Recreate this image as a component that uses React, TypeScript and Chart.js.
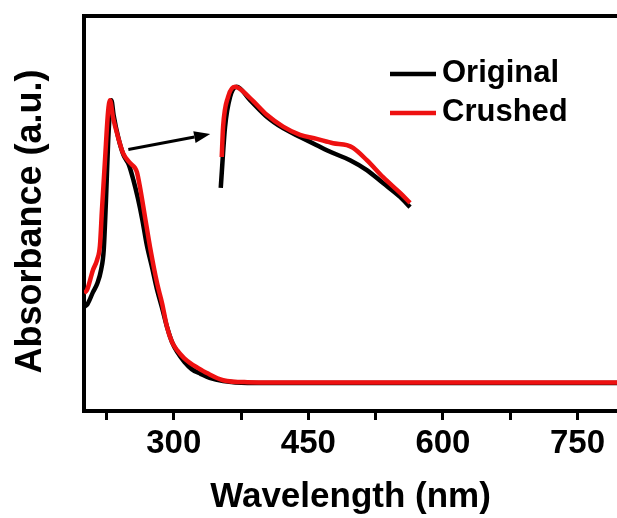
import React, { useEffect, useRef } from "react";
import { Chart, registerables } from "chart.js";

Chart.register(...registerables);

// ---- data ----
const xMin = 200;
const xMax = 794;
const labeledTicks = [300, 450, 600, 750];
const allTicks = [225, 300, 375, 450, 525, 600, 675, 750];

const originalWl = [200, 204, 210, 215, 219, 222, 224.5, 227, 229.5, 230.5, 233, 238, 244, 250, 255, 260, 265, 270, 276, 281, 287, 292.5, 298, 304, 312, 320, 330, 340, 355, 382, 450, 600, 794];
const originalAbs = [26.3, 27.1, 30.1, 32.4, 35.7, 40.8, 53.4, 68.6, 77.7, 78.7, 74.9, 69.4, 64.8, 62.3, 58.5, 53.9, 48.4, 42, 36.2, 31.1, 26.1, 21.3, 17.5, 14.9, 12.4, 10.6, 9.4, 8.4, 7.6, 7.1, 7.1, 7.1, 7.1];

const crushedWl = [200, 203.3, 210, 214.5, 217.8, 220, 223.4, 226.8, 229, 232.3, 237.9, 243.5, 251.3, 256.9, 259, 262.4, 268, 273.6, 281.4, 287, 292.5, 298, 303.7, 311.5, 318, 327, 337, 355, 382, 450, 600, 794];
const crushedAbs = [29.9, 30.6, 35.7, 38.2, 42, 50.9, 63.5, 75.7, 78.7, 74.4, 69.4, 65.3, 62.8, 61.5, 60.5, 56.7, 49.1, 41.5, 32.4, 27.3, 21.3, 17.5, 15.4, 13.4, 12.2, 10.9, 9.6, 7.8, 7.3, 7.2, 7.2, 7.2];

// inset (magnified peak) curves
const insetOriginalWl = [352.4, 357.2, 362.8, 370.2, 385.1, 403.7, 421.9, 440.8, 459.4, 477.6, 496.5, 515.2, 533.3, 552.3, 563.4];
const insetOriginalAbs = [56.5, 71.9, 79.5, 82.1, 78.7, 74.5, 71.6, 69.4, 67.3, 65.3, 63.5, 61, 57.7, 54.2, 51.6];
const insetCrushedWl = [353.5, 355.0, 360.5, 368.3, 385.1, 403.7, 421.9, 440.8, 459.4, 477.6, 492.9, 499.9, 515.2, 533.3, 552.3, 563.4];
const insetCrushedAbs = [64.3, 71.9, 79.5, 82.1, 79.2, 75, 72, 69.9, 68.9, 67.8, 67.3, 66.6, 63.5, 59.2, 55.2, 52.7];

const arrowFrom = [249.4, 66.2];
const arrowTo = [340.6, 70.1];

const seriesNames = ["Original", "Crushed"];
const seriesColors = ["#000000", "#ee1111"];
const yTitle = "Absorbance (a.u.)";
const xTitle = "Wavelength (nm)";

const FONT = "'Liberation Sans', Arial, sans-serif";

const toPoints = (xs: number[], ys: number[]) => xs.map((x, i) => ({ x, y: ys[i] }));

const extrasPlugin = {
  id: "extras",
  afterDraw(chart: any) {
    const { ctx, chartArea, scales } = chart;
    const xs = scales.x;
    const ys = scales.y;
    ctx.save();
    // top frame line
    ctx.strokeStyle = "#000";
    ctx.lineWidth = 4;
    ctx.beginPath();
    ctx.moveTo(chartArea.left - 2, chartArea.top);
    ctx.lineTo(chartArea.right, chartArea.top);
    ctx.stroke();

    // arrow
    const x1 = xs.getPixelForValue(arrowFrom[0]);
    const y1 = ys.getPixelForValue(arrowFrom[1]);
    const x2 = xs.getPixelForValue(arrowTo[0]);
    const y2 = ys.getPixelForValue(arrowTo[1]);
    const ang = Math.atan2(y2 - y1, x2 - x1);
    const headLen = 16;
    const headW = 6;
    const bx = x2 - headLen * Math.cos(ang);
    const by = y2 - headLen * Math.sin(ang);
    ctx.lineWidth = 3;
    ctx.beginPath();
    ctx.moveTo(x1, y1);
    ctx.lineTo(bx, by);
    ctx.stroke();
    ctx.fillStyle = "#000";
    ctx.beginPath();
    ctx.moveTo(x2, y2);
    ctx.lineTo(bx + headW * Math.sin(ang), by - headW * Math.cos(ang));
    ctx.lineTo(bx - headW * Math.sin(ang), by + headW * Math.cos(ang));
    ctx.closePath();
    ctx.fill();

    // legend
    const lx = chartArea.left + 306;
    const ly = chartArea.top + 58;
    const gap = 39;
    ctx.font = `bold 31px ${FONT}`;
    ctx.textBaseline = "middle";
    ctx.textAlign = "left";
    seriesNames.forEach((name, i) => {
      const yy = ly + i * gap;
      ctx.strokeStyle = seriesColors[i];
      ctx.lineWidth = 4.5;
      ctx.beginPath();
      ctx.moveTo(lx, yy);
      ctx.lineTo(lx + 46, yy);
      ctx.stroke();
      ctx.fillStyle = "#000";
      ctx.fillText(name, lx + 52, yy - 1);
    });

    // y-axis title
    ctx.translate(31, (chartArea.top + chartArea.bottom) / 2 + 8);
    ctx.rotate(-Math.PI / 2);
    ctx.font = `bold 36px ${FONT}`;
    ctx.textAlign = "center";
    ctx.textBaseline = "middle";
    ctx.fillText(yTitle, 0, 0);
    ctx.restore();
  },
};

export default function App() {
  const ref = useRef<HTMLCanvasElement | null>(null);
  useEffect(() => {
    if (!ref.current) return;
    const line = (data: any, color: string, order: number, label: string) => ({
      label,
      data,
      borderColor: color,
      backgroundColor: color,
      borderWidth: 4.5,
      pointRadius: 0,
      tension: 0.3,
      cubicInterpolationMode: "monotone" as const,
      order,
    });
    const chart = new Chart(ref.current, {
      type: "line",
      data: {
        datasets: [
          line(toPoints(crushedWl, crushedAbs), seriesColors[1], 0, seriesNames[1]),
          line(toPoints(originalWl, originalAbs), seriesColors[0], 1, seriesNames[0]),
          line(toPoints(insetCrushedWl, insetCrushedAbs), seriesColors[1], 2, "inset " + seriesNames[1]),
          line(toPoints(insetOriginalWl, insetOriginalAbs), seriesColors[0], 3, "inset " + seriesNames[0]),
        ],
      },
      plugins: [extrasPlugin],
      options: {
        animation: false,
        responsive: false,
        maintainAspectRatio: false,
        layout: { padding: { top: 16, right: 0, left: 0, bottom: 0 } },
        plugins: { legend: { display: false }, tooltip: { enabled: false } },
        scales: {
          x: {
            type: "linear",
            min: xMin,
            max: xMax,
            afterBuildTicks: (s: any) => {
              s.ticks = allTicks.map((v) => ({ value: v }));
            },
            afterFit: (s: any) => {
              s.height = 107;
            },
            grid: { drawOnChartArea: false, drawTicks: true, tickLength: 9, tickWidth: 3, tickColor: "#000" },
            border: { display: true, width: 4, color: "#000" },
            ticks: {
              autoSkip: false,
              maxRotation: 0,
              padding: 4,
              color: "#000",
              font: { family: FONT, size: 33, weight: "bold" },
              callback: (v: any) => (labeledTicks.includes(Number(v)) ? String(v) : ""),
            },
            title: {
              display: true,
              text: xTitle,
              color: "#000",
              font: { family: FONT, size: 35, weight: "bold" },
              padding: { top: 0, bottom: 0 },
            },
          },
          y: {
            type: "linear",
            min: 0,
            max: 100,
            afterFit: (s: any) => {
              s.width = 84;
            },
            grid: { display: false },
            border: { display: true, width: 4, color: "#000" },
            ticks: { display: false },
            title: { display: false },
          },
        },
      },
    } as any);
    return () => chart.destroy();
  }, []);
  return (
    <div style={{ position: "fixed", left: 0, top: 0, width: 617, height: 518, background: "#fff" }}>
      <canvas ref={ref} width={617} height={518} style={{ width: 617, height: 518 }} />
    </div>
  );
}
